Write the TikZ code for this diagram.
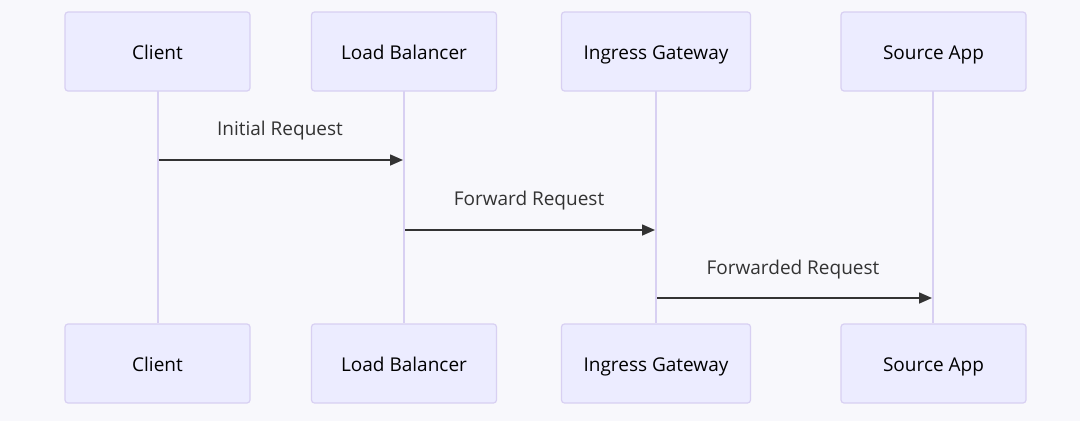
\documentclass[tikz,border=0pt]{standalone}
\usepackage{fontspec}
\setmainfont{Open Sans}
\usetikzlibrary{arrows.meta}
\definecolor{bg}{HTML}{F8F8FC}
\definecolor{actfill}{HTML}{ECECFF}
\definecolor{actline}{HTML}{D8D0F2}
\definecolor{msg}{HTML}{333333}
\tikzset{
  actor/.style={draw=actline, fill=actfill, line width=1.2pt, rounded corners=3pt,
    minimum width=185pt, minimum height=79pt, inner sep=0pt},
  actortext/.style={anchor=base, inner sep=0pt, font=\fontsize{19}{22}\selectfont, text=black},
  lifeline/.style={draw=actline, line width=2pt},
  message/.style={draw=msg, line width=1.6pt, -{Triangle[length=13pt,width=11pt]}},
  msglabel/.style={anchor=base, inner sep=0pt, font=\fontsize{19}{22}\selectfont, text=msg}
}
\begin{document}
\begin{tikzpicture}[x=1pt,y=-1pt]
\fill[bg] (0,0) rectangle (1080,421);
\useasboundingbox (0,0) rectangle (1080,421);
% lifelines first
\foreach \x in {157.5,404,656,933}{
  \draw[lifeline] (\x,91) -- (\x,323);
}
\node[actor] (c1) at (157.5,51.5) {};
\node[actor] (l1) at (404,51.5) {};
\node[actor,minimum width=189pt] (i1) at (656,51.5) {};
\node[actor] (s1) at (933.5,51.5) {};
\node[actor] (c2) at (157.5,363.5) {};
\node[actor] (l2) at (404,363.5) {};
\node[actor,minimum width=189pt] (i2) at (656,363.5) {};
\node[actor] (s2) at (933.5,363.5) {};
\node[actortext] (c1t) at (157.5,59) {Client};
\node[actortext] (l1t) at (404,59) {Load Balancer};
\node[actortext] (i1t) at (656,59) {Ingress Gateway};
\node[actortext] (s1t) at (933.5,59) {Source App};
\node[actortext] (c2t) at (157.5,371) {Client};
\node[actortext] (l2t) at (404,371) {Load Balancer};
\node[actortext] (i2t) at (656,371) {Ingress Gateway};
\node[actortext] (s2t) at (933.5,371) {Source App};
% messages
\coordinate (a1) at (158.5,160);
\coordinate (b1) at (403,160);
\coordinate (a2) at (405,230);
\coordinate (b2) at (655,230);
\coordinate (a3) at (657,298);
\coordinate (b3) at (932,298);
\draw[message] (a1) -- (b1);
\draw[message] (a2) -- (b2);
\draw[message] (a3) -- (b3);
\node[msglabel] (t1) at (280,135.5) {Initial Request};
\node[msglabel] (t2) at (529,205.5) {Forward Request};
\node[msglabel] (t3) at (793,274.5) {Forwarded Request};
\end{tikzpicture}
\end{document}
